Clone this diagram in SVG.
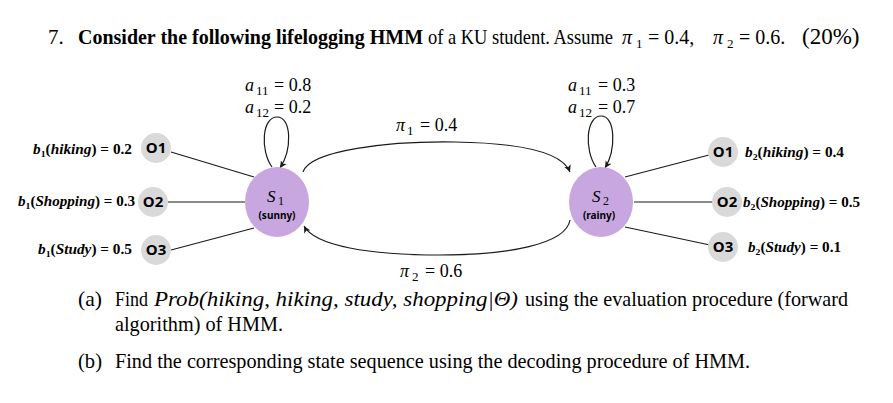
<svg xmlns="http://www.w3.org/2000/svg" width="893" height="403" viewBox="0 0 893 403">
<defs>
<style>
.t{font-family:"Liberation Serif","Times New Roman",serif;font-size:21px;fill:#000}
.b{font-weight:bold}
.i{font-style:italic}
.m{font-family:"Liberation Serif","DejaVu Serif",serif;font-size:18px;fill:#000}
.mt{font-size:20px}
.ms{font-size:13px}
.pc{font-size:23px}
.lbl{font-family:"Liberation Serif","DejaVu Serif",serif;font-size:14px;font-weight:bold;fill:#000}
.sub{font-size:9px}
.on{font-family:"Noto Sans","Liberation Sans",sans-serif;font-size:15px;font-weight:bold;fill:#000;text-anchor:middle}
.sn{font-family:"Liberation Serif",serif;font-size:17px;font-style:italic;fill:#000}
.sns{font-family:"Liberation Serif",serif;font-size:12px;fill:#000}
.sd{font-family:"Noto Sans","Liberation Sans",sans-serif;font-size:10px;font-weight:bold;fill:#000;text-anchor:middle}
.state{fill:#C8A6E0}
.obs{fill:#D9D9D9}
.e{fill:none;stroke:#1a1a1a;stroke-width:1.2}
.ea{fill:none;stroke:#1a1a1a;stroke-width:1.2;marker-end:url(#ah)}
</style>
<marker id="ah" markerWidth="8" markerHeight="8" refX="7" refY="4" orient="auto" markerUnits="userSpaceOnUse">
<path d="M0,0.5 L7,4 L0,7.5 L2,4 Z" fill="#1a1a1a"/>
</marker>
</defs>

<!-- title -->
<g id="title">
<text class="t" x="48" y="44">7.</text>
<text class="t b" x="78" y="44" textLength="345" lengthAdjust="spacingAndGlyphs">Consider the following lifelogging HMM</text>
<text class="t" x="428" y="44" textLength="185" lengthAdjust="spacingAndGlyphs">of a KU student. Assume</text>
<text class="m mt i" x="622" y="44">π</text>
<text class="m ms" x="636" y="48">1</text>
<text class="m mt" x="648" y="44">= 0.4,</text>
<text class="m mt i" x="713" y="44">π</text>
<text class="m ms" x="727" y="48">2</text>
<text class="m mt" x="739" y="44">= 0.6.</text>
<text class="t pc" x="802" y="44">(20%)</text>
</g>

<!-- connectors -->
<g id="connectors">
<line class="e" x1="171" y1="152" x2="254" y2="177"/>
<line class="e" x1="168" y1="202" x2="245" y2="202"/>
<line class="e" x1="171" y1="250" x2="254" y2="228"/>
<line class="e" x1="625" y1="177" x2="709" y2="155"/>
<line class="e" x1="634" y1="202" x2="713" y2="202"/>
<line class="e" x1="625" y1="227" x2="710" y2="245"/>
<path class="ea" d="M272,167 C260,150 262,117 277,117 C292,117 292,150 280,168"/>
<path class="ea" d="M596,167 C584,150 586,116 601,116 C616,116 616,150 605,168"/>
<path class="ea" d="M303,172 C310,150 390,141 455,142 C520,143 562,152 570,172"/>
<path class="ea" d="M570,220 C566,245 505,255 440,255 C370,255 315,246 304,226"/>
</g>

<!-- states -->
<g id="s1">
<ellipse class="state" cx="277" cy="202" rx="32" ry="35"/>
<text class="sn" x="267" y="202">S</text>
<text class="sns" x="278" y="205">1</text>
<text class="sd" x="277" y="219">(sunny)</text>
</g>
<g id="s2">
<ellipse class="state" cx="601" cy="202" rx="32" ry="35"/>
<text class="sn" x="592" y="202">S</text>
<text class="sns" x="603" y="205">2</text>
<text class="sd" x="599" y="219">(rainy)</text>
</g>

<!-- observations left -->
<g id="o1-left">
<circle class="obs" cx="156" cy="148" r="15"/>
<text class="on" x="156" y="153">O1</text>
</g>
<g id="o2-left">
<circle class="obs" cx="153" cy="202" r="15"/>
<text class="on" x="153" y="207">O2</text>
</g>
<g id="o3-left">
<circle class="obs" cx="156" cy="250" r="15"/>
<text class="on" x="156" y="255">O3</text>
</g>
<!-- observations right -->
<g id="o1-right">
<circle class="obs" cx="723" cy="152" r="15"/>
<text class="on" x="723" y="157">O1</text>
</g>
<g id="o2-right">
<circle class="obs" cx="727" cy="202" r="15"/>
<text class="on" x="727" y="207">O2</text>
</g>
<g id="o3-right">
<circle class="obs" cx="723" cy="247" r="15"/>
<text class="on" x="723" y="252">O3</text>
</g>

<!-- emission labels -->
<g id="emission-labels">
<text class="lbl" x="33" y="154" textLength="99" lengthAdjust="spacingAndGlyphs"><tspan class="i">b</tspan><tspan class="sub" dy="3">1</tspan><tspan dy="-3">(</tspan><tspan class="i">hiking</tspan>) = 0.2</text>
<text class="lbl" x="18" y="206" textLength="117" lengthAdjust="spacingAndGlyphs"><tspan class="i">b</tspan><tspan class="sub" dy="3">1</tspan><tspan dy="-3">(</tspan><tspan class="i">Shopping</tspan>) = 0.3</text>
<text class="lbl" x="38" y="254" textLength="94" lengthAdjust="spacingAndGlyphs"><tspan class="i">b</tspan><tspan class="sub" dy="3">1</tspan><tspan dy="-3">(</tspan><tspan class="i">Study</tspan>) = 0.5</text>
<text class="lbl" x="745" y="157" textLength="99" lengthAdjust="spacingAndGlyphs"><tspan class="i">b</tspan><tspan class="sub" dy="3">2</tspan><tspan dy="-3">(</tspan><tspan class="i">hiking</tspan>) = 0.4</text>
<text class="lbl" x="743" y="207" textLength="117" lengthAdjust="spacingAndGlyphs"><tspan class="i">b</tspan><tspan class="sub" dy="3">2</tspan><tspan dy="-3">(</tspan><tspan class="i">Shopping</tspan>) = 0.5</text>
<text class="lbl" x="748" y="252" textLength="93" lengthAdjust="spacingAndGlyphs"><tspan class="i">b</tspan><tspan class="sub" dy="3">2</tspan><tspan dy="-3">(</tspan><tspan class="i">Study</tspan>) = 0.1</text>
</g>

<!-- transition labels -->
<g id="transition-labels">
<text class="m i" x="245" y="91">a</text><text class="m ms" x="256" y="95">11</text><text class="m" x="274" y="91">= 0.8</text>
<text class="m i" x="245" y="113">a</text><text class="m ms" x="256" y="117">12</text><text class="m" x="274" y="113">= 0.2</text>
<text class="m i" x="568" y="91">a</text><text class="m ms" x="579" y="95">11</text><text class="m" x="598" y="91">= 0.3</text>
<text class="m i" x="568" y="113">a</text><text class="m ms" x="579" y="117">12</text><text class="m" x="598" y="113">= 0.7</text>
<text class="m i" x="396" y="131">π</text><text class="m ms" x="407" y="135">1</text><text class="m" x="420" y="131">= 0.4</text>
<text class="m i" x="400" y="277">π</text><text class="m ms" x="412" y="281">2</text><text class="m" x="425" y="277">= 0.6</text>
</g>

<!-- questions -->
<g id="questions">
<text class="t" x="78" y="306" textLength="24" lengthAdjust="spacingAndGlyphs">(a)</text>
<text class="t" x="115" y="306" textLength="33" lengthAdjust="spacingAndGlyphs">Find</text>
<text class="t i" x="154" y="306" textLength="364" lengthAdjust="spacingAndGlyphs">Prob(hiking, hiking, study, shopping|Θ)</text>
<text class="t" x="525" y="306" textLength="323" lengthAdjust="spacingAndGlyphs">using the evaluation procedure (forward</text>
<text class="t" x="115" y="331" textLength="168" lengthAdjust="spacingAndGlyphs">algorithm) of HMM.</text>
<text class="t" x="78" y="368" textLength="24" lengthAdjust="spacingAndGlyphs">(b)</text>
<text class="t" x="115" y="368" textLength="635" lengthAdjust="spacingAndGlyphs">Find the corresponding state sequence using the decoding procedure of HMM.</text>
</g>
</svg>
